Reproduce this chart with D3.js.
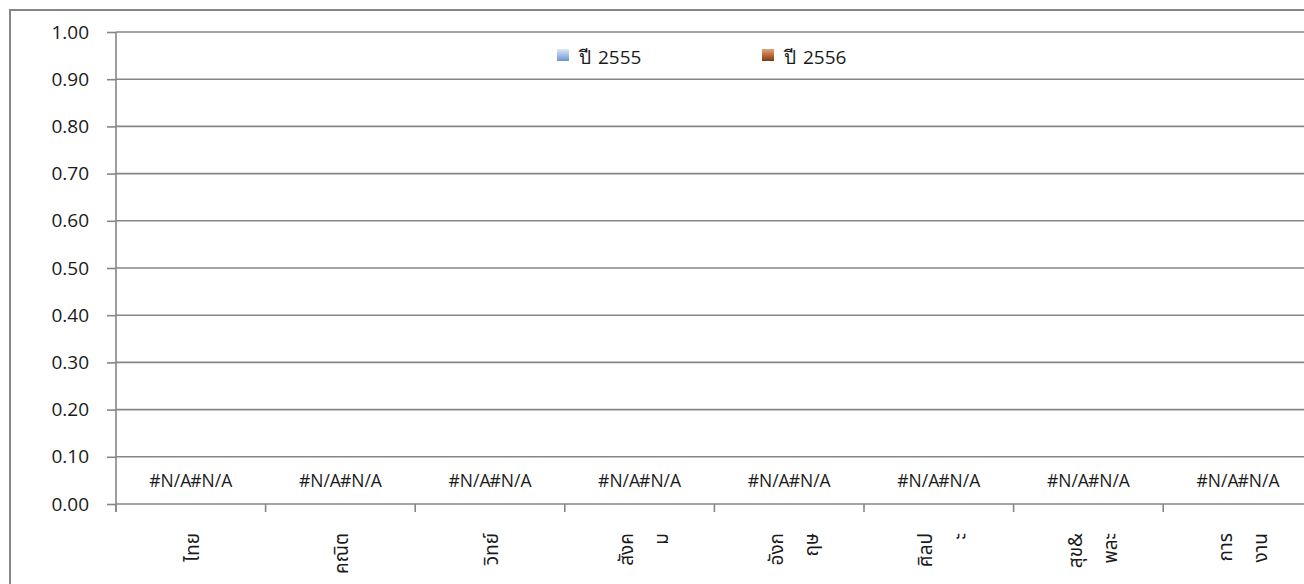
<!DOCTYPE html>
<html>
<head>
<meta charset="utf-8">
<script src="https://cdn.jsdelivr.net/npm/d3@7"></script>
<style>
  html, body { margin: 0; padding: 0; background: #fff; overflow: hidden; }
  svg { display: block; }
  text { font-family: "Open Sans", "Noto Sans", "DejaVu Sans", sans-serif; fill: #1a1a1a; }
</style>
</head>
<body>
<svg id="chart" width="1304" height="584"></svg>
<script>
// ---- data ----
const categories = ["ไทย", "คณิต", "วิทย์", "สังค\nม", "อังก\nฤษ", "ศิลป\nะ", "สุข&\nพละ", "การ\nงาน"];
const seriesNames = ["ปี 2555", "ปี 2556"];
const values2555 = [null, null, null, null, null, null, null, null];
const values2556 = [null, null, null, null, null, null, null, null];
const yTicks = [0, 0.1, 0.2, 0.3, 0.4, 0.5, 0.6, 0.7, 0.8, 0.9, 1.0];

const seriesValues = [values2555, values2556];

// ---- layout ----
const svg = d3.select("#chart");
const W = 1304, H = 584;
const plotLeft = 116, plotRight = 116 + 8 * 149.6, plotTop = 32, plotBottom = 504;
const gridColor = "#868686";

// defs: gradients
const defs = svg.append("defs");
const g1 = defs.append("linearGradient").attr("id", "gBlue").attr("x1", 0).attr("y1", 0).attr("x2", 0).attr("y2", 1);
g1.append("stop").attr("offset", "0%").attr("stop-color", "#dfe8f5");
g1.append("stop").attr("offset", "100%").attr("stop-color", "#6a94d2");
const g2 = defs.append("linearGradient").attr("id", "gBrown").attr("x1", 0).attr("y1", 0).attr("x2", 0).attr("y2", 1);
g2.append("stop").attr("offset", "0%").attr("stop-color", "#e6a57a");
g2.append("stop").attr("offset", "100%").attr("stop-color", "#86360e");
const fills = ["url(#gBlue)", "url(#gBrown)"];

// outer border
svg.append("rect").attr("x", 10).attr("y", 10).attr("width", 1400).attr("height", 700)
  .attr("fill", "#fff").attr("stroke", gridColor).attr("stroke-width", 2);

// scales
const x0 = d3.scaleBand().domain(categories).range([plotLeft, plotRight]).paddingInner(0).paddingOuter(0);
const x1 = d3.scaleBand().domain(seriesNames).range([0, x0.bandwidth()]).paddingInner(0).paddingOuter(0.824);
const y = d3.scaleLinear().domain([0, 1]).range([plotBottom, plotTop]);

// gridlines
svg.append("g").selectAll("line").data(yTicks.slice(1)).join("line")
  .attr("x1", plotLeft).attr("x2", W + 20)
  .attr("y1", d => y(d)).attr("y2", d => y(d))
  .attr("stroke", gridColor).attr("stroke-width", 1.6);

// y axis
const yAxis = d3.axisLeft(y).tickValues(yTicks).tickFormat(d3.format(".2f")).tickSize(9).tickPadding(18);
const yg = svg.append("g").attr("transform", `translate(${plotLeft},0)`).call(yAxis);
yg.select(".domain").remove();
yg.selectAll(".tick line").attr("stroke", gridColor).attr("stroke-width", 1.6);
yg.selectAll(".tick text").attr("font-size", 19).attr("fill", "#1a1a1a")
  .style("font-family", '"Open Sans", sans-serif');
svg.append("line").attr("x1", plotLeft).attr("x2", plotLeft).attr("y1", plotTop).attr("y2", plotBottom + 8)
  .attr("stroke", gridColor).attr("stroke-width", 1.6);

// x axis line + ticks at category boundaries
svg.append("line").attr("x1", plotLeft).attr("x2", W + 20).attr("y1", plotBottom).attr("y2", plotBottom)
  .attr("stroke", gridColor).attr("stroke-width", 1.6);
svg.append("g").selectAll("line").data(categories).join("line")
  .attr("x1", d => x0(d)).attr("x2", d => x0(d))
  .attr("y1", plotBottom).attr("y2", plotBottom + 8)
  .attr("stroke", gridColor).attr("stroke-width", 1.6);

// bars (values are N/A -> no bar) and data labels
const cat = svg.append("g").selectAll("g").data(categories).join("g")
  .attr("transform", d => `translate(${x0(d)},0)`);
cat.selectAll("rect").data((d, i) => seriesNames.map((s, k) => ({ s, v: seriesValues[k][i], k })))
  .join("rect")
  .attr("x", d => x1(d.s)).attr("width", x1.bandwidth())
  .attr("y", d => d.v == null ? y(0) : y(d.v))
  .attr("height", d => d.v == null ? 0 : y(0) - y(d.v))
  .attr("fill", d => fills[d.k]);
cat.selectAll("text.lbl").data((d, i) => seriesNames.map((s, k) => ({ s, v: seriesValues[k][i], k })))
  .join("text").attr("class", "lbl")
  .attr("x", d => x1(d.s) + x1.bandwidth() / 2)
  .attr("y", d => (d.v == null ? y(0) : y(d.v)) - 17)
  .attr("text-anchor", "middle").attr("font-size", 17.5)
  .text(d => d.v == null ? "#N/A" : d3.format(".2f")(d.v));

// category labels (rotated -90, multi-line)
const lineGap = 35;
const xl = svg.append("g").selectAll("text").data(categories).join("text")
  .attr("transform", d => `translate(${x0(d) + x0.bandwidth() / 2},533) rotate(-90)`)
  .attr("text-anchor", "end").attr("font-size", 19)
  .style("font-family", '"Noto Sans Thai", "Tahoma", "Noto Sans", sans-serif');
xl.each(function (d) {
  const lines = d.split("\n");
  const n = lines.length;
  const off = n === 1 ? 8 : 11;
  d3.select(this).selectAll("tspan").data(lines).join("tspan")
    .attr("x", 0)
    .attr("y", (l, i) => (i - (n - 1) / 2) * lineGap + off)
    .text(l => l);
});

// legend
const legend = svg.append("g");
const legX = [557, 762];
seriesNames.forEach((s, k) => {
  legend.append("rect").attr("x", legX[k]).attr("y", 49).attr("width", 12).attr("height", 12)
    .attr("fill", fills[k]);
  legend.append("text").attr("x", legX[k] + 22).attr("y", 64).attr("font-size", 19)
    .style("word-spacing", "2px").text(s);
});
</script>
</body>
</html>
